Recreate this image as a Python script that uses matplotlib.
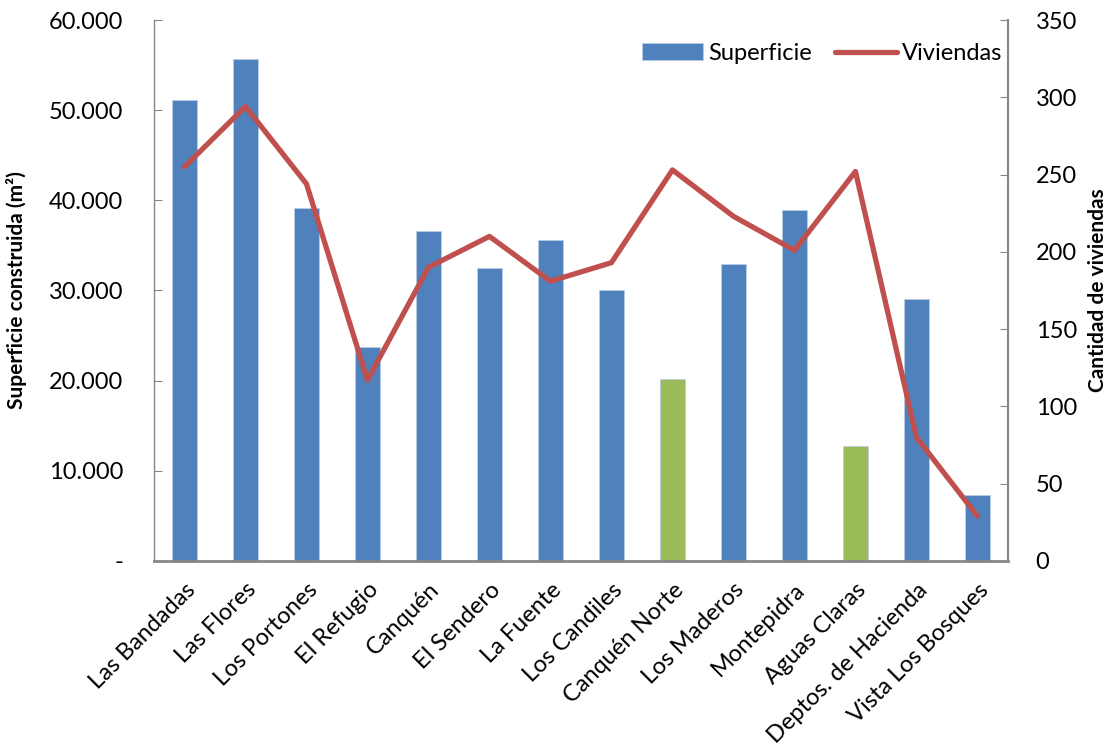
import numpy as np
import matplotlib.pyplot as plt
from matplotlib.ticker import FuncFormatter, MultipleLocator

plt.rcParams['font.family'] = ['Lato', 'DejaVu Sans']

conjuntos = ['Las Bandadas', 'Las Flores', 'Los Portones', 'El Refugio', 'Canquén',
             'El Sendero', 'La Fuente', 'Los Candiles', 'Canquén Norte', 'Los Maderos',
             'Montepidra', 'Aguas Claras', 'Deptos. de Hacienda', 'Vista Los Bosques']
superficie = [51100, 55700, 39100, 23700, 36600, 32500, 35600,
              30100, 20200, 32900, 38900, 12700, 29100, 7300]
viviendas = [255, 294, 244, 117, 190, 210, 181, 193, 253, 223, 201, 252, 80, 29]
destacados = ['Canquén Norte', 'Aguas Claras']

azul = '#4F81BD'
verde = '#9BBB59'
rojo = '#C0504D'
gris = '#868686'

fig = plt.figure(figsize=(11.14, 7.55), dpi=100)
ax = fig.add_axes([0.1382, 0.257, 0.9048 - 0.1382, 0.9735 - 0.257])
ax2 = ax.twinx()

x = np.arange(len(conjuntos))
colores = [verde if c in destacados else azul for c in conjuntos]
ax.bar(x, superficie, width=0.4, color=colores, edgecolor='#B9CDE5',
       linewidth=0.6, label='Superficie', zorder=2)
ax2.plot(x, viviendas, color=rojo, lw=3.8, solid_joinstyle='round',
         solid_capstyle='round', label='Viviendas', zorder=3)

ax.set_xlim(-0.5, len(conjuntos) - 0.5)
ax.set_ylim(0, 60000)
ax2.set_ylim(0, 350)
ax.yaxis.set_major_locator(MultipleLocator(10000))
ax2.yaxis.set_major_locator(MultipleLocator(50))

def miles(v, pos):
    if v == 0:
        return '-'
    return f'{int(v):,}'.replace(',', '.')

ax.yaxis.set_major_formatter(FuncFormatter(miles))

for a in (ax, ax2):
    a.spines['top'].set_visible(False)
    for s in a.spines.values():
        s.set_color(gris)
ax.spines['left'].set_linewidth(1.0)
ax.spines['bottom'].set_linewidth(2.0)
ax2.spines['right'].set_linewidth(1.5)
ax2.spines['left'].set_visible(False)
ax2.spines['bottom'].set_visible(False)

ax.tick_params(axis='y', direction='in', length=6, color=gris, labelsize=17, pad=22)
ax2.tick_params(axis='y', direction='in', length=6, color=gris, labelsize=17, pad=20)
ax.tick_params(axis='x', length=0, labelsize=17, pad=13)
ax.set_xticks(x)
ax.set_xticklabels(conjuntos, rotation=45, ha='right', rotation_mode='anchor')

ax.set_ylabel('Superficie construida (m²)', fontsize=15, fontweight='bold', labelpad=16)
ax2.set_ylabel('Cantidad de viviendas', fontsize=15, fontweight='bold', labelpad=8)

h1, l1 = ax.get_legend_handles_labels()
h2, l2 = ax2.get_legend_handles_labels()
ax2.legend([h1[0], h2[0]], [l1[0], l2[0]], loc='upper right', ncol=2, frameon=False,
           fontsize=17, handlelength=2.6, handletextpad=0.2, columnspacing=1.0,
           bbox_to_anchor=(1.004, 0.975), borderaxespad=0.0)

fig.savefig('out.png', dpi=100)
